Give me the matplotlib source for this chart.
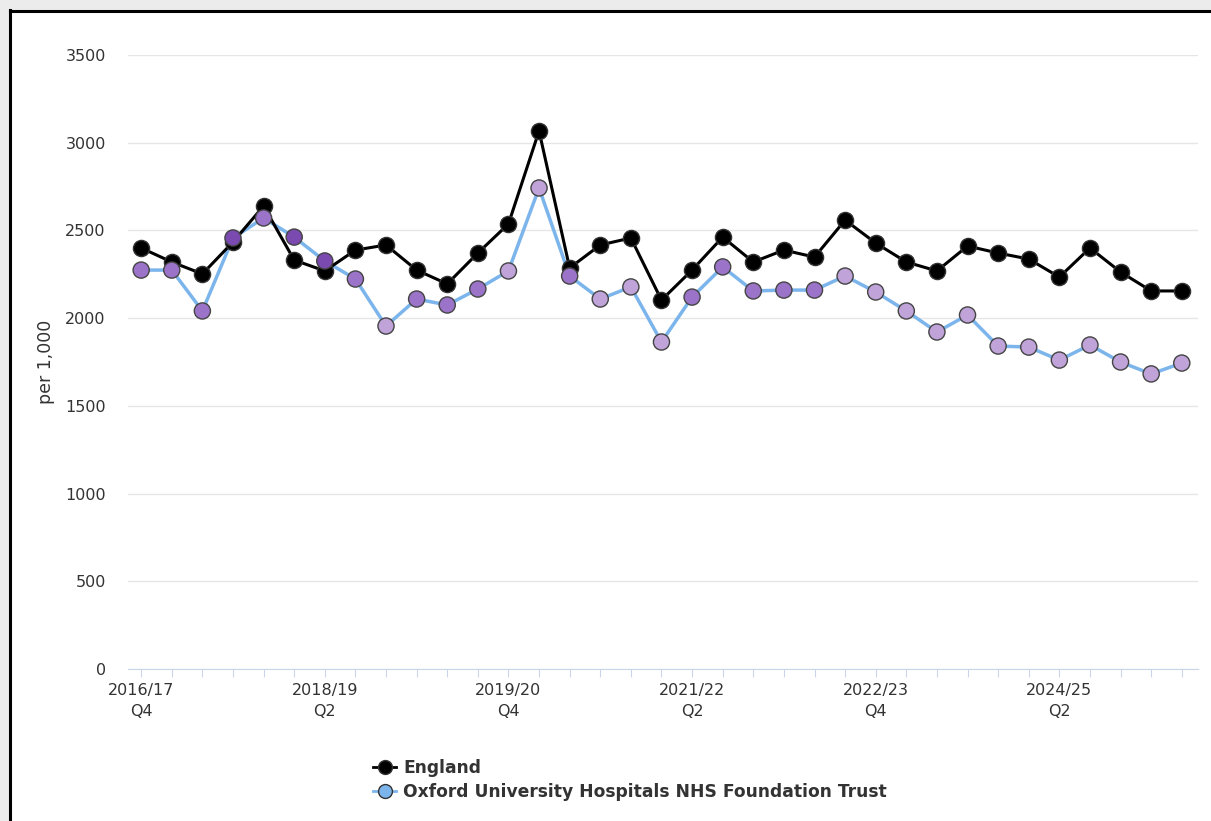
import numpy as np
import matplotlib
matplotlib.use("Agg")
import matplotlib.pyplot as plt
from matplotlib.lines import Line2D
from matplotlib.patches import Rectangle

# Quarter labels, one per point
quarters = [
    "2016/17\nQ4",
    "2017/18\nQ1", "2017/18\nQ2", "2017/18\nQ3", "2017/18\nQ4",
    "2018/19\nQ1", "2018/19\nQ2", "2018/19\nQ3", "2018/19\nQ4",
    "2019/20\nQ1", "2019/20\nQ2", "2019/20\nQ3", "2019/20\nQ4",
    "2020/21\nQ1", "2020/21\nQ2", "2020/21\nQ3", "2020/21\nQ4",
    "2021/22\nQ1", "2021/22\nQ2", "2021/22\nQ3", "2021/22\nQ4",
    "2022/23\nQ1", "2022/23\nQ2", "2022/23\nQ3", "2022/23\nQ4",
    "2023/24\nQ1", "2023/24\nQ2", "2023/24\nQ3", "2023/24\nQ4",
    "2024/25\nQ1", "2024/25\nQ2", "2024/25\nQ3", "2024/25\nQ4",
    "2025/26\nQ1", "2025/26\nQ2",
]

england = [2400, 2320, 2252, 2434, 2639, 2331, 2269, 2388, 2417, 2274,
           2195, 2371, 2537, 3067, 2286, 2417, 2457, 2103, 2274, 2462,
           2320, 2388, 2348, 2559, 2428, 2320, 2269, 2411, 2371, 2337,
           2234, 2400, 2263, 2155, 2155]

oxford = [2274, 2274, 2041, 2457, 2571, 2462, 2326, 2223, 1955, 2109,
          2075, 2166, 2269, 2742, 2240, 2109, 2178, 1864, 2120, 2292,
          2155, 2160, 2160, 2240, 2149, 2041, 1921, 2018, 1841, 1835,
          1761, 1847, 1750, 1682, 1744]

# marker shade per Oxford point: d = dark, m = medium, l = light
oxford_shade = ["m", "m", "m", "d", "m", "d", "d", "m", "l", "m",
                "m", "m", "l", "l", "m", "l", "l", "l", "m", "m",
                "m", "m", "m", "l", "l", "l", "l", "l", "l", "l",
                "l", "l", "l", "l", "l"]
shade_colours = {"d": "#7b4ab0", "m": "#9b74c9", "l": "#bfa3d9"}

fig = plt.figure(figsize=(12.11, 8.21), dpi=100)
fig.patch.set_facecolor("white")

# grey page strip and the black frame round the chart
fig.add_artist(Rectangle((0, 0), 8 / 1211, 1, transform=fig.transFigure,
                         color="#ececec", zorder=0))
fig.add_artist(Rectangle((0, 1 - 10 / 821), 1, 10 / 821, transform=fig.transFigure,
                         color="#ececec", zorder=0))
fig.add_artist(Line2D([9.5 / 1211, 9.5 / 1211], [0, 1 - 10.5 / 821],
                      transform=fig.transFigure, color="black", lw=2.2))
fig.add_artist(Line2D([9.5 / 1211, 1], [1 - 11.5 / 821, 1 - 11.5 / 821],
                      transform=fig.transFigure, color="black", lw=2.2))

ax = fig.add_axes([128 / 1211, 152 / 821, 1070 / 1211, 614 / 821])
x = np.arange(len(quarters))

ax.plot(x, england, color="black", lw=2.2, zorder=3)
ax.scatter(x, england, s=135, color="black", edgecolors="#333333",
           linewidths=1, zorder=4)

ax.plot(x, oxford, color="#7cb5ec", lw=2.5, zorder=2)
ax.scatter(x, oxford, s=135, c=[shade_colours[s] for s in oxford_shade],
           edgecolors="#444444", linewidths=1, zorder=5)

ax.set_xlim(-0.43, len(quarters) - 0.47)
ax.set_ylim(0, 3500)
ax.set_yticks(np.arange(0, 3501, 500))
ax.grid(axis="y", color="#e6e6e6", lw=1)
ax.set_axisbelow(True)

for s in ["top", "right", "left"]:
    ax.spines[s].set_visible(False)
ax.spines["bottom"].set_color("#ccd6eb")

ax.set_xticks(x)
ax.set_xticklabels([q if i % 6 == 0 else "" for i, q in enumerate(quarters)],
                   fontsize=11.5, color="#333333", linespacing=1.55)
ax.tick_params(axis="x", colors="#ccd6eb", length=6, labelcolor="#333333", pad=4)
ax.tick_params(axis="y", length=0, labelsize=11.5, labelcolor="#333333", pad=16)
ax.set_ylabel("per 1,000", fontsize=12.5, color="#333333", labelpad=7)

handles = [
    Line2D([], [], color="black", lw=2, marker="o", markersize=10,
           markerfacecolor="black", markeredgecolor="#333333"),
    Line2D([], [], color="#7cb5ec", lw=2, marker="o", markersize=10,
           markerfacecolor="#7cb5ec", markeredgecolor="#333333"),
]
fig.legend(handles, ["England", "Oxford University Hospitals NHS Foundation Trust"],
           loc="upper left", bbox_to_anchor=(370 / 1211, 1 - 756 / 821),
           frameon=False, handlelength=1.3, handletextpad=0.45, labelspacing=0.3,
           borderaxespad=0, borderpad=0.2,
           prop={"weight": "bold", "size": 12.3}, labelcolor="#333333")

fig.savefig("out.png", dpi=100)
